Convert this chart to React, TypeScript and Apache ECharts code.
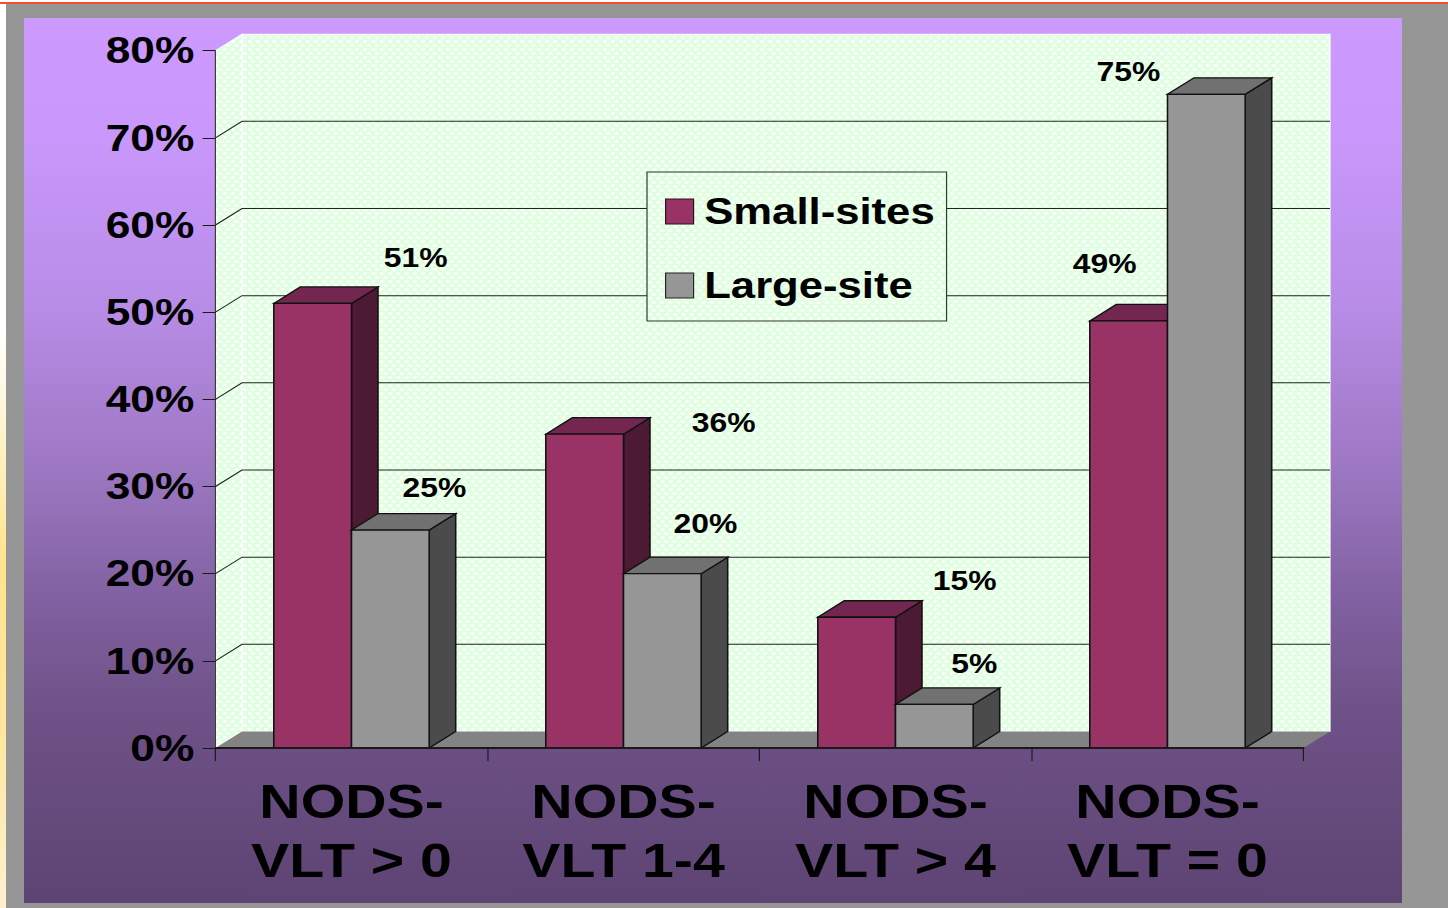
import React, { useEffect, useRef } from "react";
import * as echarts from "echarts";

const categories = ["NODS-\nVLT > 0", "NODS-\nVLT 1-4", "NODS-\nVLT > 4", "NODS-\nVLT = 0"];
const smallSites = [51, 36, 15, 49];
const largeSite = [25, 20, 5, 75];
const gridValues = [10, 20, 30, 40, 50, 60, 70];
const smallSiteLabelOffsets = [[103, -46], [139, -12], [108, -37], [-24, -57]];
const largeSiteLabelOffsets = [[44, -43], [43, -50], [40, -41], [-78, -23]];

const W = 1227;
const H = 908;
const SX = 1448 / W;
const FONT = '"Liberation Sans", Arial, sans-serif';
const DX = 26.5 / SX;
const DY = 16.5;

function makeTile() {
  const c = document.createElement("canvas");
  c.width = 7;
  c.height = 8;
  const g = c.getContext("2d")!;
  g.fillStyle = "#E0FFE0";
  g.fillRect(0, 0, 7, 8);
  const plus = (x: number, y: number) => {
    g.fillStyle = "#F3FFF3";
    g.fillRect((x + 6) % 7, (y + 7) % 8, 1, 1);
    g.fillRect((x + 1) % 7, (y + 7) % 8, 1, 1);
    g.fillRect((x + 6) % 7, (y + 1) % 8, 1, 1);
    g.fillRect((x + 1) % 7, (y + 1) % 8, 1, 1);
    g.fillStyle = "#FFFFFF";
    g.fillRect(x, y, 1, 1);
    g.fillRect((x + 6) % 7, y, 1, 1);
    g.fillRect((x + 1) % 7, y, 1, 1);
    g.fillRect(x, (y + 7) % 8, 1, 1);
    g.fillRect(x, (y + 1) % 8, 1, 1);
  };
  plus(1, 1);
  plus(4, 5);
  return c;
}

function barSeries(name: string, values: number[], offsets: number[][], side: number, front: string, topC: string, sideC: string) {
  return {
    type: "custom",
    name,
    z: 3,
    clip: false,
    itemStyle: { color: front },
    data: values.map((v, i) => [i, v]),
    encode: { x: 0, y: 1 },
    renderItem: (_p: any, api: any) => {
      const i = api.value(0);
      const v = api.value(1);
      const [c, top] = api.coord([i, v]);
      const [, base] = api.coord([i, 0]);
      const bw = (api.size([1, 0])[0] * 2) / 7;
      const x0 = side < 0 ? c - bw : c;
      const x1 = x0 + bw;
      const stroke = { stroke: "#111", lineWidth: 1.3 };
      const off = offsets[i];
      return {
        type: "group",
        children: [
          { type: "polygon", shape: { points: [[x1, base], [x1 + DX, base - DY], [x1 + DX, top - DY], [x1, top]] }, style: { fill: sideC, ...stroke } },
          { type: "polygon", shape: { points: [[x0, top], [x0 + DX, top - DY], [x1 + DX, top - DY], [x1, top]] }, style: { fill: topC, ...stroke } },
          { type: "rect", shape: { x: x0, y: top, width: bw, height: base - top }, style: { fill: front, ...stroke } },
          {
            type: "text",
            z2: 20,
            style: {
              text: v + "%",
              x: (x0 + x1) / 2 + off[0] / SX,
              y: top + off[1],
              fill: "#000",
              font: `bold 27px ${FONT}`,
              align: "center",
              verticalAlign: "middle",
            },
          },
        ],
      };
    },
  };
}

export default function App() {
  const ref = useRef<HTMLDivElement>(null);
  useEffect(() => {
    document.body.style.margin = "0";
    const chart = echarts.init(ref.current!, null, { renderer: "svg" });
    const tile = makeTile();
    const wallFill: any = { image: tile, repeat: "repeat" };
    const rect = (x: number, y: number, w: number, h: number, fill: any) => ({
      type: "rect",
      z: -100,
      silent: true,
      shape: { x: x / SX, y, width: w / SX, height: h },
      style: { fill },
    });
    chart.setOption({
      animation: false,
      backgroundColor: "#FFFFFF",
      textStyle: { fontFamily: FONT },
      graphic: {
        elements: [
          rect(0, 2, 1448, 2, "#F0502A"),
          rect(0, 4, 6, 904, new echarts.graphic.LinearGradient(0, 0, 0, 1, [
            { offset: 0, color: "#FFFFFF" },
            { offset: 0.36, color: "#FFFFFF" },
            { offset: 0.62, color: "#FFE48C" },
            { offset: 0.8, color: "#FFE69E" },
            { offset: 1, color: "#FFF0D2" },
          ])),
          rect(6, 4, 1442, 904, "#969696"),
          rect(24, 18, 1378, 885, new echarts.graphic.LinearGradient(0, 0, 0, 1, [
            { offset: 0, color: "#CC99FF" },
            { offset: 0.12, color: "#CA98FC" },
            { offset: 0.32, color: "#B88DE8" },
            { offset: 0.52, color: "#9B76C0" },
            { offset: 0.66, color: "#8060A0" },
            { offset: 0.78, color: "#6F5288" },
            { offset: 1, color: "#5D4473" },
          ])),
        ],
      },
      grid: { left: 215.5 / SX, right: W - 1303.5 / SX, top: 50.7, bottom: H - 748 },
      legend: {
        orient: "vertical",
        left: 647 / SX,
        top: 172,
        padding: [21, 10, 17, 18 / SX],
        itemWidth: 28 / SX,
        itemHeight: 25,
        itemGap: 37,
        itemStyle: { borderWidth: 1 },
        z: 5,
        backgroundColor: wallFill,
        borderColor: "#333",
        borderWidth: 1,
        selectedMode: false,
        textStyle: { color: "#000", fontFamily: FONT, fontWeight: "bold", fontSize: 37, padding: [0, 0, 0, 4] },
        data: [
          { name: "Small-sites", icon: "rect", itemStyle: { color: "#993366", borderColor: "#2A1020", borderWidth: 1 } },
          { name: "Large-site", icon: "rect", itemStyle: { color: "#969696", borderColor: "#222", borderWidth: 1 } },
        ],
      },
      xAxis: {
        type: "category",
        data: categories,
        z: 4,
        axisLine: { show: true, lineStyle: { color: "#1a1a1a", width: 2 } },
        axisTick: { show: true, length: 13, lineStyle: { color: "#1a1a1a", width: 1 } },
        axisLabel: { color: "#000", fontFamily: FONT, fontWeight: "bold", fontSize: 48.5, lineHeight: 59, margin: 24, interval: 0 },
        splitLine: { show: false },
      },
      yAxis: {
        type: "value",
        min: 0,
        max: 80,
        interval: 10,
        z: 4,
        axisLine: { show: true, lineStyle: { color: "#333", width: 1 } },
        axisTick: { show: true, length: 11, lineStyle: { color: "#1a1a1a", width: 1 } },
        axisLabel: { color: "#000", fontFamily: FONT, fontWeight: "bold", fontSize: 37.5, margin: 18, formatter: "{value}%" },
        splitLine: { show: false },
      },
      series: [
        {
          type: "custom",
          name: "walls",
          z: 1,
          clip: false,
          silent: true,
          data: [[0, 0]],
          encode: { x: 0, y: 1 },
          renderItem: (p: any, api: any) => {
            const g = p.coordSys;
            const xL = g.x;
            const xR = g.x + g.width;
            const yT = g.y;
            const yB = g.y + g.height;
            const lines = gridValues.map((v) => {
              const y = api.coord([0, v])[1];
              return {
                type: "polyline",
                shape: { points: [[xL, y], [xL + DX, y - DY], [xR + DX, y - DY]] },
                style: { fill: "none", stroke: "#222", lineWidth: 1 },
              };
            });
            return {
              type: "group",
              children: [
                { type: "polygon", shape: { points: [[xL, yB], [xL + DX, yB - DY], [xL + DX, yT - DY], [xL, yT]] }, style: { fill: wallFill, stroke: "#fff", lineWidth: 1 } },
                { type: "rect", shape: { x: xL + DX, y: yT - DY, width: g.width, height: g.height }, style: { fill: wallFill, stroke: "#fff", lineWidth: 1 } },
                { type: "polygon", shape: { points: [[xL, yB], [xL + DX, yB - DY], [xR + DX, yB - DY], [xR, yB]] }, style: { fill: "#838383" } },
                ...lines,
              ],
            };
          },
        },
        barSeries("Small-sites", smallSites, smallSiteLabelOffsets, -1, "#993366", "#732650", "#4D1A33"),
        barSeries("Large-site", largeSite, largeSiteLabelOffsets, 1, "#969696", "#717171", "#4B4B4B"),
      ],
    });
    return () => chart.dispose();
  }, []);
  return (
    <div
      ref={ref}
      style={{ width: W, height: H, transform: `scaleX(${SX})`, transformOrigin: "0 0" }}
    />
  );
}
